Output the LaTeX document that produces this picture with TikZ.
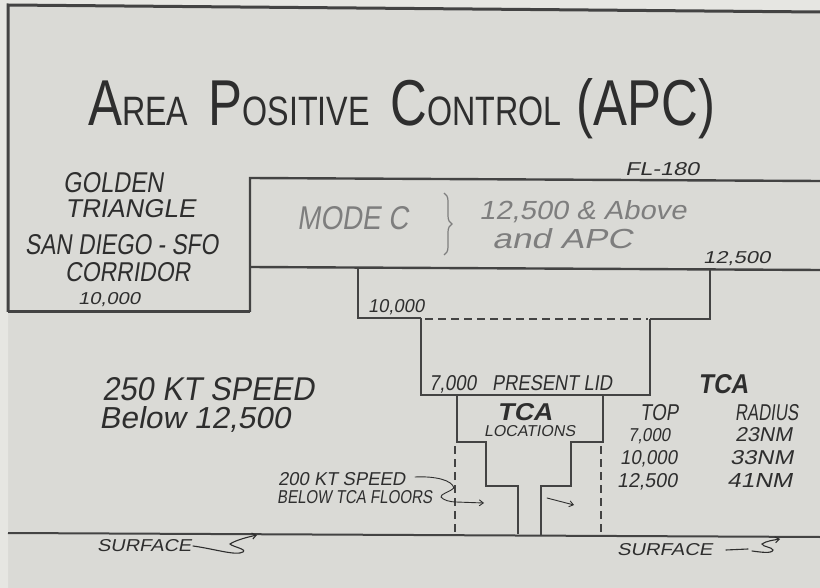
\documentclass[tikz,border=0pt]{standalone}
\usepackage{fontspec}
\setmainfont{Liberation Sans}
\newfontfamily\hand[FakeSlant=0.18]{Liberation Sans}
\usetikzlibrary{decorations.pathreplacing,arrows.meta}
\definecolor{paper}{HTML}{DADAD6}
\definecolor{paperlight}{HTML}{E6E6E2}
\definecolor{ink}{HTML}{2E2E2E}
\definecolor{pencil}{HTML}{7E7E7E}
\newcommand\tx[3]{\resizebox{#1pt}{#2pt}{#3}}
\tikzset{
  lbl/.style={anchor=base west, inner sep=0pt, text=ink, font=\hand},
  pale/.style={lbl, text=pencil},
  wall/.style={draw=ink!90, line width=2.4pt, line join=miter},
  thinwall/.style={draw=ink!90, line width=2pt},
  dashwall/.style={draw=ink!90, line width=2pt, dash pattern=on 8pt off 5pt},
  sq/.style={draw=ink, line width=1.1pt, line cap=round}
}
\begin{document}
\begin{tikzpicture}[x=1pt,y=-1pt]
\useasboundingbox (0,0) rectangle (820,588);
\fill[paper] (0,0) rectangle (820,588);
\fill[paperlight] (0,0) -- (820,0) -- (820,12) -- (8,5) -- (8,588) -- (0,588) -- cycle;
% outer frame
\draw[wall, line width=3pt] (8,312) -- (8,5) -- (820,12);
\draw[wall, line width=3pt] (8,312) -- (250,312);
% Mode C band
\draw[wall] (250,312) -- (250,178) -- (820,181);
\draw[wall] (250,267) -- (820,270);
% 10,000 shelf
\draw[thinwall] (358,268) -- (358,318) -- (421,318);
\draw[thinwall] (650,319) -- (710,319) -- (710,269);
\draw[dashwall] (425,319) -- (648,319);
% 7,000 box
\draw[thinwall] (421,318) -- (421,395) -- (650,395) -- (650,319);
% TCA locations
\draw[thinwall] (457,395) -- (457,442) -- (486,442) -- (486,486) -- (518,486) -- (518,534);
\draw[thinwall] (603,395) -- (603,442) -- (571,442) -- (571,486) -- (541,486) -- (541,535);
\draw[dashwall] (455,446) -- (455,534);
\draw[dashwall] (601,446) -- (601,535);
% surface
\draw[thinwall] (8,533) -- (820,537);
% title
\node[anchor=base west, inner sep=0pt, text=ink] (title) at (88,126) {\tx{627}{47}{%
  {\fontsize{60}{60}\selectfont A}{\fontsize{38}{38}\selectfont REA}\hspace{24pt}%
  {\fontsize{60}{60}\selectfont P}{\fontsize{38}{38}\selectfont OSITIVE}\hspace{24pt}%
  {\fontsize{60}{60}\selectfont C}{\fontsize{38}{38}\selectfont ONTROL}\hspace{18pt}%
  {\fontsize{60}{60}\selectfont (APC)}}};
% labels
\node[lbl] (fl) at (625,176) {\tx{74}{13}{FL-180}};
\node[lbl] (golden) at (63,193) {\tx{100}{20}{GOLDEN}};
\node[lbl] (triangle) at (65,218) {\tx{130}{18}{TRIANGLE}};
\node[lbl] (sandiego) at (25,255) {\tx{193}{20}{SAN DIEGO - SFO}};
\node[lbl] (corridor) at (65,282) {\tx{125}{19}{CORRIDOR}};
\node[lbl] (tenA) at (78,305) {\tx{62}{12}{10,000}};
\node[pale] (modec) at (297,230) {\tx{111}{23}{MODE C}};
\draw[draw=pencil, line width=1.2pt, decorate, decoration={brace, amplitude=8pt}] (444,193) -- (444,255);
\node[pale] (above) at (479,220) {\tx{207}{19}{12,500 \& Above}};
\node[pale] (andapc) at (492,249) {\tx{140}{20}{and APC}};
\node[lbl] (twelveA) at (703,264) {\tx{67}{12}{12,500}};
\node[lbl] (tenB) at (368,313) {\tx{56}{13}{10,000}};
\node[lbl] (speed) at (102,400) {\tx{212}{23}{250 KT SPEED}};
\node[lbl] (below) at (99,428) {\tx{191}{22}{Below 12,500}};
\node[lbl] (sevenA) at (429,390) {\tx{47}{15}{7,000}};
\node[lbl] (lid) at (492,390) {\tx{120}{15}{PRESENT LID}};
\node[lbl] (tcaA) at (497,420) {\tx{55}{17}{\bfseries TCA}};
\node[lbl] (locs) at (484,436) {\tx{91}{11}{LOCATIONS}};
\node[lbl] (kt200) at (278,485) {\tx{127}{13}{200 KT SPEED}};
\node[lbl] (belowtca) at (277,503) {\tx{155}{13}{BELOW TCA FLOORS}};
\node[lbl] (tcaB) at (698,393) {\tx{50}{19}{\bfseries TCA}};
\node[lbl] (top) at (640,420) {\tx{38}{16}{TOP}};
\node[lbl] (radius) at (735,420) {\tx{63}{16}{RADIUS}};
\node[lbl] (r1a) at (628,441) {\tx{42}{13}{7,000}};
\node[lbl] (r1b) at (735,441) {\tx{57}{14}{23NM}};
\node[lbl] (r2a) at (620,464) {\tx{57}{14}{10,000}};
\node[lbl] (r2b) at (730,464) {\tx{63}{14}{33NM}};
\node[lbl] (r3a) at (617,487) {\tx{60}{14}{12,500}};
\node[lbl] (r3b) at (727,487) {\tx{65}{14}{41NM}};
\node[lbl] (surfR) at (617,555) {\tx{95}{12}{SURFACE}};
\node[lbl] (surfL) at (97,551) {\tx{94}{12}{SURFACE}};
% leader and arrows
\coordinate (lead) at (415,477);
\coordinate (arrA) at (484,503);
\draw[sq, line width=0.9pt, -{Straight Barb[length=4pt,width=6pt]}] (lead) .. controls (435,476) and (452,480) .. (454,488) .. controls (450,492) and (440,494) .. (441,497) .. controls (443,500) and (450,502) .. (456,502) -- (arrA);
\coordinate (arrB0) at (547,498);
\coordinate (arrB1) at (574,505);
\draw[sq, line width=0.9pt, -{Straight Barb[length=4pt,width=6pt]}] (arrB0) -- (arrB1);
% surface break marks
\coordinate (sqL0) at (193,546);
\coordinate (sqL1) at (257,535);
\draw[sq, -{Straight Barb[length=4pt,width=6pt]}] (sqL0) .. controls (215,549) and (236,556) .. (243,552) .. controls (247,549) and (233,547) .. (230,544) .. controls (236,540) and (248,537) .. (sqL1);
\coordinate (sqR0) at (726,550);
\coordinate (sqR1) at (780,539);
\draw[sq] (sqR0) -- (748,549);
\draw[sq, -{Straight Barb[length=4pt,width=6pt]}] (752,551) .. controls (760,552) and (772,554) .. (773,550) .. controls (772,547) and (763,547) .. (762,544) .. controls (766,541) and (774,540) .. (sqR1);
\end{tikzpicture}
\end{document}
